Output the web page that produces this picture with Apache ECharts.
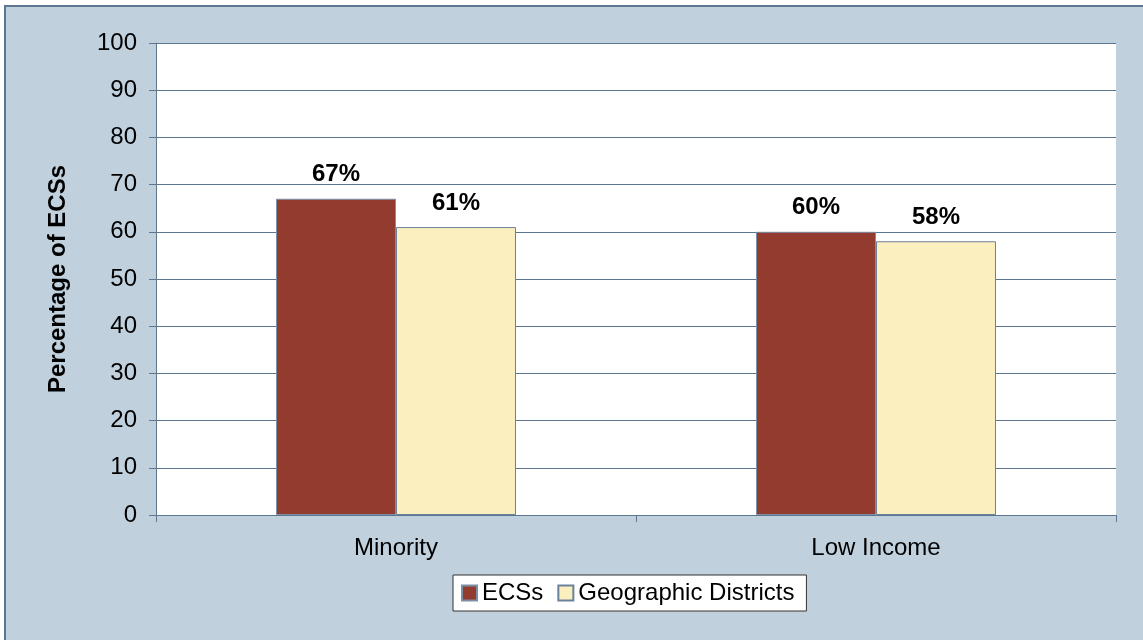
<!DOCTYPE html>
<html><head><meta charset="utf-8">
<script src="https://cdn.jsdelivr.net/npm/echarts@6/dist/echarts.min.js"></script>
<style>html,body{margin:0;padding:0;background:#fff}#c{width:1143px;height:640px}</style>
</head><body><div id="c"></div>
<script>
const categories = ['Minority', 'Low Income'];
const seriesNames = ['ECSs', 'Geographic Districts'];
const ecsValues = [67, 60];
const districtValues = [61, 58];
const yTicks = [0, 10, 20, 30, 40, 50, 60, 70, 80, 90, 100];

const chart = echarts.init(document.getElementById('c'));
const FONT = '"Liberation Sans", Arial, sans-serif';
const lineCol = '#5d7791';
chart.setOption({
  backgroundColor: '#ffffff',
  animation: false,
  graphic: [{
    type: 'rect', z: -10, silent: true,
    shape: { x: 5, y: 6, width: 1160, height: 660 },
    style: { fill: '#c0d0dd', stroke: '#5d7791', lineWidth: 2 }
  }],
  grid: { left: 156, top: 43, width: 960, height: 472, backgroundColor: '#ffffff', show: true, borderWidth: 0 },
  legend: {
    data: seriesNames,
    left: 453, top: 575,
    backgroundColor: '#ffffff', borderColor: '#333333', borderWidth: 1,
    padding: [6, 12, 6, 8],
    itemWidth: 15, itemHeight: 15, itemGap: 14,
    icon: 'rect',
    textStyle: { fontFamily: FONT, fontSize: 24, color: '#000' }
  },
  xAxis: {
    type: 'category', data: categories,
    axisLine: { lineStyle: { color: lineCol, width: 1 } },
    axisTick: { show: true, length: 7, lineStyle: { color: lineCol } },
    axisLabel: { margin: 21, fontFamily: FONT, fontSize: 24, color: '#000' }
  },
  yAxis: {
    type: 'value', min: 0, max: 100, interval: 10,
    name: 'Percentage of ECSs', nameLocation: 'middle', nameGap: 86, nameRotate: 90,
    nameTextStyle: { fontFamily: FONT, fontSize: 24, fontWeight: 'bold', color: '#000' },
    axisLine: { show: true, lineStyle: { color: lineCol, width: 1 } },
    axisTick: { show: true, length: 7, lineStyle: { color: lineCol } },
    axisLabel: { margin: 19, fontFamily: FONT, fontSize: 24, color: '#000',
      formatter: v => yTicks.includes(v) ? String(v) : '' },
    splitLine: { show: true, lineStyle: { color: lineCol, width: 1 } }
  },
  series: [
    { name: seriesNames[0], type: 'bar', data: ecsValues, barGap: '0%', barCategoryGap: '50%',
      itemStyle: { color: '#943b2f', borderColor: '#7b8fa5', borderWidth: 1 },
      label: { show: true, position: 'top', distance: 12, formatter: '{c}%', fontFamily: FONT, fontSize: 24, fontWeight: 'bold', color: '#000' } },
    { name: seriesNames[1], type: 'bar', data: districtValues,
      itemStyle: { color: '#fcefbf', borderColor: '#6a819b', borderWidth: 1 },
      label: { show: true, position: 'top', distance: 12, formatter: '{c}%', fontFamily: FONT, fontSize: 24, fontWeight: 'bold', color: '#000' } }
  ]
});
</script></body></html>
